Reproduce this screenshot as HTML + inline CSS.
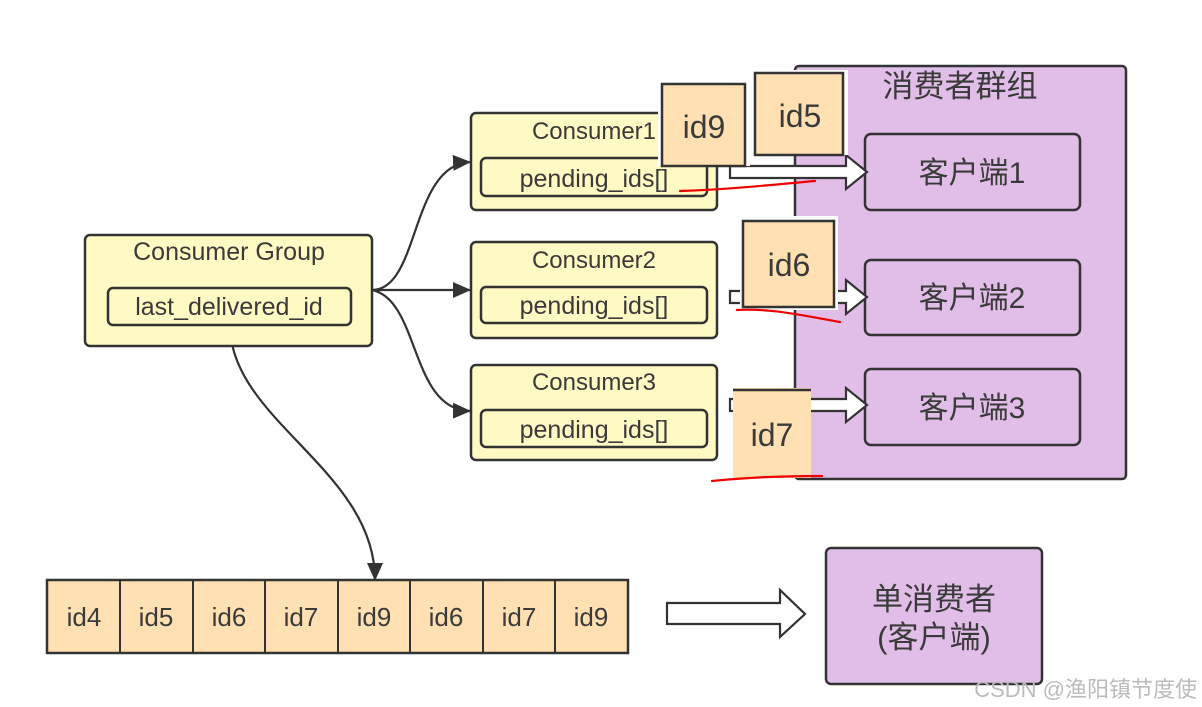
<!DOCTYPE html>
<html><head><meta charset="utf-8"><style>
html,body{margin:0;padding:0;background:#fff;}
svg{display:block;}
text{font-family:"Liberation Sans","Noto Sans CJK SC",sans-serif;fill:#3a3a3a;}
</style></head><body>
<svg width="1202" height="707" viewBox="0 0 1202 707" xmlns="http://www.w3.org/2000/svg">
<defs>
<marker id="ah" markerWidth="18" markerHeight="16" refX="17" refY="8" orient="auto" markerUnits="userSpaceOnUse">
<path d="M0,0 L18,8 L0,16 Z" fill="#333"/></marker>
</defs>
<rect x="795" y="66" width="331" height="413" rx="4" fill="#e1bee7" stroke="#333" stroke-width="2.5"/>
<text x="960" y="97" font-size="31" text-anchor="middle">消费者群组</text>
<rect x="865" y="134" width="215" height="76" rx="6" fill="#e1bee7" stroke="#333" stroke-width="2.5"/>
<text x="972" y="183" font-size="30" text-anchor="middle">客户端1</text>
<rect x="865" y="260" width="215" height="75" rx="6" fill="#e1bee7" stroke="#333" stroke-width="2.5"/>
<text x="972" y="308" font-size="30" text-anchor="middle">客户端2</text>
<rect x="865" y="369" width="215" height="76" rx="6" fill="#e1bee7" stroke="#333" stroke-width="2.5"/>
<text x="972" y="418" font-size="30" text-anchor="middle">客户端3</text>

<g fill="none" stroke="#333" stroke-width="2.2">
<path d="M372,290 C420,290 410,165 470,162" marker-end="url(#ah)"/>
<path d="M372,290 L470,290" marker-end="url(#ah)"/>
<path d="M372,290 C420,300 410,410 470,411" marker-end="url(#ah)"/>
<path d="M230,325 C230,420 375,470 375,580" marker-end="url(#ah)"/>
</g>

<rect x="85" y="235" width="287" height="111" rx="5" fill="#fff9c4" stroke="#333" stroke-width="2.5"/>
<text x="229" y="260" font-size="25" text-anchor="middle">Consumer Group</text>
<rect x="108" y="288" width="243" height="37" rx="5" fill="#fff9c4" stroke="#333" stroke-width="2.5"/>
<text x="229" y="315" font-size="25" text-anchor="middle">last_delivered_id</text>

<g>
<rect x="471" y="113" width="246" height="97" rx="5" fill="#fff9c4" stroke="#333" stroke-width="2.5"/>
<text x="594" y="139" font-size="24" text-anchor="middle">Consumer1</text>
<rect x="481" y="158" width="226" height="38" rx="5" fill="#fff9c4" stroke="#333" stroke-width="2.5"/>
<text x="594" y="187" font-size="25" text-anchor="middle">pending_ids[]</text>
<rect x="471" y="242" width="246" height="96" rx="5" fill="#fff9c4" stroke="#333" stroke-width="2.5"/>
<text x="594" y="268" font-size="24" text-anchor="middle">Consumer2</text>
<rect x="481" y="287" width="226" height="36" rx="5" fill="#fff9c4" stroke="#333" stroke-width="2.5"/>
<text x="594" y="314" font-size="25" text-anchor="middle">pending_ids[]</text>
<rect x="471" y="365" width="246" height="95" rx="5" fill="#fff9c4" stroke="#333" stroke-width="2.5"/>
<text x="594" y="390" font-size="24" text-anchor="middle">Consumer3</text>
<rect x="481" y="410" width="226" height="37" rx="5" fill="#fff9c4" stroke="#333" stroke-width="2.5"/>
<text x="594" y="438" font-size="25" text-anchor="middle">pending_ids[]</text>
</g>

<g fill="#fff" stroke="#333" stroke-width="2.2">
<path d="M730,166 L846,166 L846,155 L867,172 L846,189 L846,178 L730,178 Z"/>
<path d="M730,291 L846,291 L846,280 L867,297 L846,314 L846,303 L730,303 Z"/>
<path d="M730,399 L846,399 L846,388 L867,405 L846,422 L846,411 L730,411 Z"/>
<path d="M667,603 L780,603 L780,590 L805,614 L780,637 L780,624 L667,624 Z"/>
</g>

<rect x="658" y="80" width="92" height="86" fill="#fff"/>
<rect x="662" y="84" width="83" height="82" fill="#ffe0b2" stroke="#333" stroke-width="2.5"/>
<text x="704" y="138" font-size="32" text-anchor="middle">id9</text>
<rect x="752" y="70" width="96" height="85" fill="#fff"/>
<rect x="755" y="73" width="88" height="82" fill="#ffe0b2" stroke="#333" stroke-width="2.5"/>
<text x="800" y="127" font-size="32" text-anchor="middle">id5</text>
<rect x="740" y="216" width="98" height="94" fill="#fff"/>
<rect x="743" y="221" width="91" height="86" fill="#ffe0b2" stroke="#333" stroke-width="2.5"/>
<text x="789" y="276" font-size="32" text-anchor="middle">id6</text>
<rect x="733" y="388" width="78" height="90" fill="#ffe0b2"/>
<line x1="733" y1="390" x2="811" y2="390" stroke="#333" stroke-width="2.5"/>
<text x="772" y="446" font-size="32" text-anchor="middle">id7</text>

<g fill="none" stroke="#e00" stroke-width="2.2" stroke-linecap="round">
<path d="M680,191 C720,190 760,186 815,181"/>
<path d="M737,310 C770,308 800,315 840,322"/>
<path d="M712,481 C740,478 780,476 822,476"/>
</g>

<rect x="47" y="580" width="581" height="73" stroke="#333" stroke-width="2.5" fill="#ffe0b2"/>
<g stroke="#333" stroke-width="2">
<line x1="120" y1="580" x2="120" y2="653"/><line x1="193" y1="580" x2="193" y2="653"/>
<line x1="265" y1="580" x2="265" y2="653"/><line x1="338" y1="580" x2="338" y2="653"/>
<line x1="410" y1="580" x2="410" y2="653"/><line x1="483" y1="580" x2="483" y2="653"/>
<line x1="555" y1="580" x2="555" y2="653"/>
</g>
<g font-size="26" text-anchor="middle">
<text x="84" y="626">id4</text><text x="156" y="626">id5</text><text x="229" y="626">id6</text>
<text x="301" y="626">id7</text><text x="374" y="626">id9</text><text x="446" y="626">id6</text>
<text x="519" y="626">id7</text><text x="591" y="626">id9</text>
</g>

<rect x="826" y="548" width="216" height="136" rx="5" fill="#e1bee7" stroke="#333" stroke-width="2.5"/>
<text x="934" y="610" font-size="31" text-anchor="middle">单消费者</text>
<text x="934" y="648" font-size="31" text-anchor="middle">(客户端)</text>

<text x="1197" y="697" font-size="22" text-anchor="end" style="fill:#bbb">CSDN @渔阳镇节度使</text>
</svg>
</body></html>
